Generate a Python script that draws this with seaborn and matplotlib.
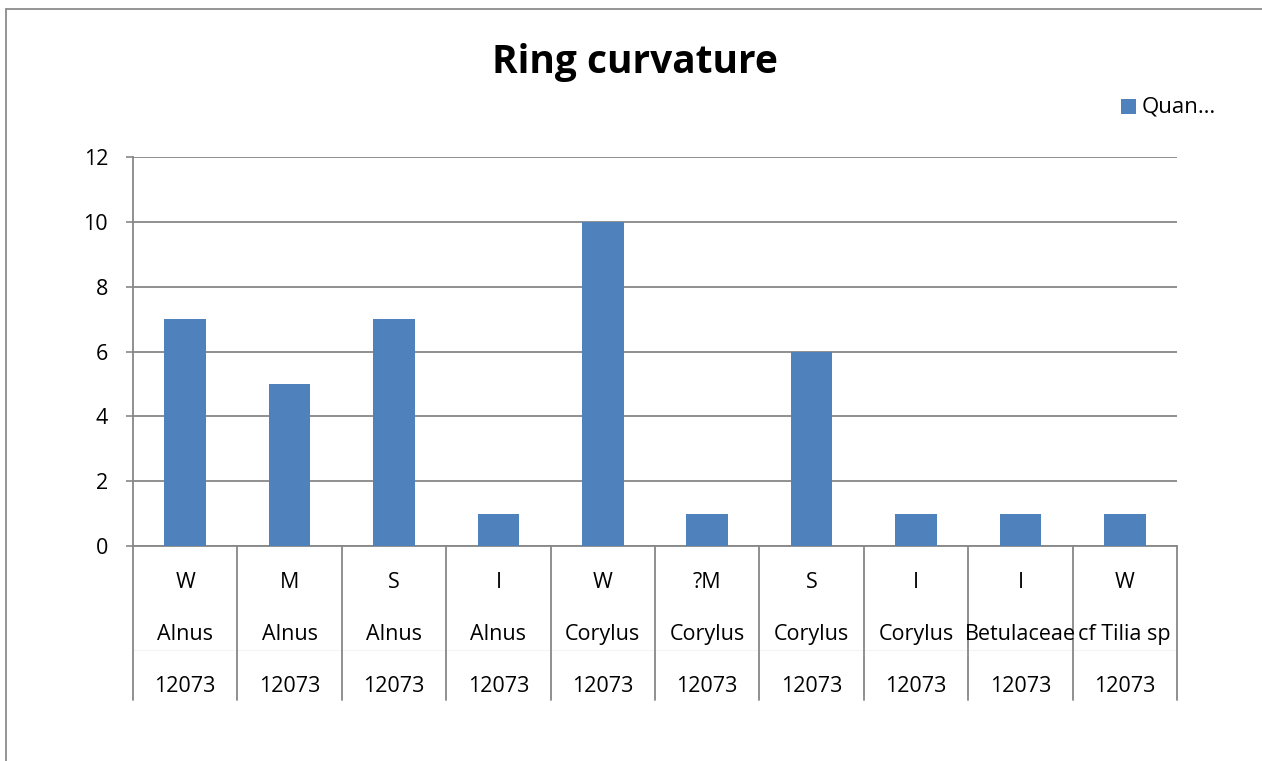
import matplotlib
matplotlib.use("Agg")
import matplotlib.pyplot as plt
import matplotlib.transforms as mtransforms
from matplotlib.lines import Line2D
from matplotlib.patches import Rectangle
import pandas as pd
import seaborn as sns

# Ring curvature counts per sample / taxon / context
curvature = ["W", "M", "S", "I", "W", "?M", "S", "I", "I", "W"]
taxon = ["Alnus", "Alnus", "Alnus", "Alnus", "Corylus", "Corylus", "Corylus",
         "Corylus", "Betulaceae", "cf Tilia sp"]
context = ["12073"] * 10
quantity = [7, 5, 7, 1, 10, 1, 6, 1, 1, 1]
y_ticks = [0, 2, 4, 6, 8, 10, 12]

sns.set_theme(style="white")
plt.rcParams["font.family"] = ["Open Sans", "DejaVu Sans"]

W, H = 1262, 761
fig = plt.figure(figsize=(W / 100, H / 100), dpi=100)
ax = fig.add_axes([133 / W, 1 - 546 / H, (1177 - 133) / W, (546 - 157) / H])

df = pd.DataFrame({
    "key": [f"{c}|{t}|{k}" for c, t, k in zip(curvature, taxon, context)],
    "Quantity": quantity,
})
bar_color = "#4F81BD"
sns.barplot(data=df, x="key", y="Quantity", color=bar_color, width=0.4,
            saturation=1, ax=ax, zorder=3, edgecolor="none", linewidth=0)

grid_c = "#878787"
ax.set_ylim(0, 12)
ax.set_xlim(-0.5, len(quantity) - 0.5)
ax.set_yticks(y_ticks)
ax.set_yticklabels([str(v) for v in y_ticks], fontsize=15.5, color="black")
ax.tick_params(axis="y", length=5, width=1.2, color=grid_c, pad=13, left=True)
ax.set_xticks([])
ax.set_xlabel("")
ax.set_ylabel("")
ax.yaxis.grid(True, color=grid_c, linewidth=1.3)
ax.set_axisbelow(True)
for side in ("top", "right"):
    ax.spines[side].set_visible(False)
ax.spines["left"].set_color(grid_c)
ax.spines["left"].set_linewidth(1.3)
ax.spines["bottom"].set_color(grid_c)
ax.spines["bottom"].set_linewidth(1.3)

# Multi-level category axis
trans = mtransforms.blended_transform_factory(ax.transData, ax.transAxes)
for i in range(len(quantity) + 1):
    ax.add_line(Line2D([i - 0.5, i - 0.5], [0, -0.396], transform=trans,
                       color=grid_c, linewidth=1.3, clip_on=False))
ax.add_line(Line2D([-0.5, len(quantity) - 0.5], [-0.267, -0.267],
                   transform=trans, color="#f4f4f4", linewidth=0.8,
                   clip_on=False, zorder=0))
rows = [(curvature, -0.094), (taxon, -0.228), (context, -0.361)]
for labels, yy in rows:
    for i, lab in enumerate(labels):
        ax.text(i, yy, lab, transform=trans, ha="center", va="center",
                fontsize=15.5, color="black", clip_on=False)

# Title
fig.text(635 / W, 1 - 63 / H, "Ring curvature", ha="center", va="center",
         fontsize=28, fontweight="bold", color="black")

# Legend
fig.patches.append(Rectangle((1121 / W, 1 - 114 / H), 15 / W, 15 / H,
                             transform=fig.transFigure, facecolor=bar_color,
                             edgecolor="none"))
fig.text(1142 / W, 1 - 107 / H, "Quan…", ha="left", va="center",
         fontsize=16, color="black")

# Chart area frame
fig.add_artist(Line2D([6 / W, 6 / W], [0, 1 - 9 / H], transform=fig.transFigure,
                      color="#8c8c8c", linewidth=1.3))
fig.add_artist(Line2D([6 / W, 1], [1 - 9 / H, 1 - 9 / H],
                      transform=fig.transFigure, color="#8c8c8c",
                      linewidth=1.3))

fig.savefig("out.png", dpi=100, facecolor="white")
